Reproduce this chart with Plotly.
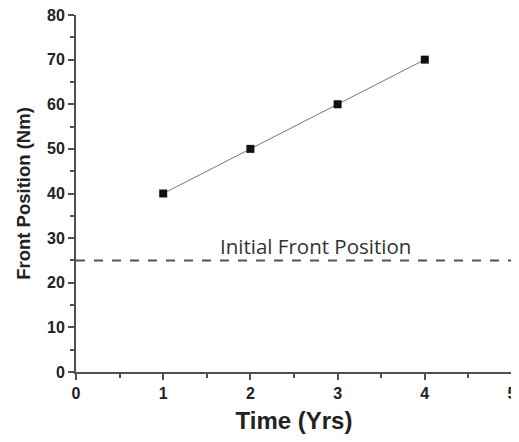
import plotly.graph_objects as go

time_yrs = [1, 2, 3, 4]
front_position = [40, 50, 60, 70]
initial_front = 25
x_ticks = [0, 1, 2, 3, 4, 5]
y_ticks = [0, 10, 20, 30, 40, 50, 60, 70, 80]

axis_color = "#505050"

fig = go.Figure()
fig.add_trace(go.Scatter(
    x=[0, 5], y=[initial_front, initial_front], mode="lines",
    line=dict(color="#555555", width=2, dash="dash"),
    showlegend=False, hoverinfo="skip", cliponaxis=False))
fig.add_trace(go.Scatter(
    x=time_yrs, y=front_position, mode="lines+markers",
    line=dict(color="#777777", width=1),
    marker=dict(symbol="square", size=8, color="#111111"),
    showlegend=False))

fig.add_annotation(x=2.75, y=initial_front, text="Initial Front Position",
                   showarrow=False, yanchor="bottom", yshift=-2,
                   font=dict(family="Open Sans, Arial", size=20.5, color="#333333"))

tickfont = dict(family="Liberation Sans, Arial", size=16, color="#222222", weight="bold")
xtitlefont = dict(family="Liberation Sans, Arial", size=24, color="#222222", weight="bold")
ytitlefont = dict(family="Liberation Sans, Arial", size=18.5, color="#222222", weight="bold")

fig.update_xaxes(range=[0, 5], tickvals=x_ticks, ticks="outside", ticklen=6,
                 tickcolor=axis_color, tickwidth=1.5,
                 showline=True, linecolor=axis_color, linewidth=2,
                 showgrid=False, zeroline=False, automargin=False,
                 ticklabeloverflow="allow",
                 tickfont=tickfont,
                 title=dict(text="Time (Yrs)", font=xtitlefont, standoff=16),
                 minor=dict(ticks="outside", ticklen=4, dtick=0.5,
                            tickcolor=axis_color, showgrid=False))
fig.update_yaxes(range=[0, 80], tickvals=y_ticks, ticks="outside", ticklen=6,
                 tickcolor=axis_color, tickwidth=1.5,
                 showline=True, linecolor=axis_color, linewidth=2,
                 showgrid=False, zeroline=False, automargin=False,
                 ticklabeloverflow="allow",
                 tickfont=tickfont,
                 title=dict(text="Front Position (Nm)", font=ytitlefont, standoff=12),
                 minor=dict(ticks="outside", ticklen=4, dtick=5,
                            tickcolor=axis_color, showgrid=False))

# page body has an 8px default margin, so the figure is offset by 8px
fig.update_layout(width=511, height=426, plot_bgcolor="white", paper_bgcolor="white",
                  margin=dict(l=68, r=7, t=7, b=62))

fig.write_html("out.html")
